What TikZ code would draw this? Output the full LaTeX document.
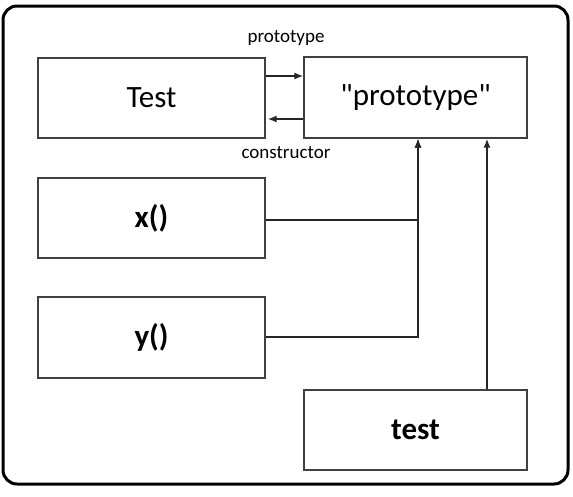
\documentclass[tikz,border=0pt]{standalone}
\usepackage{fontspec}
\setmainfont{Carlito}[Ligatures=TeXOff]
\usetikzlibrary{arrows.meta}
\begin{document}
\begin{tikzpicture}[x=1pt,y=-1pt,
  box/.style={draw=black!75, line width=1.4pt, minimum width=227pt, minimum height=80pt, inner sep=0pt, font=\fontsize{31}{34}\selectfont},
  conn/.style={draw=black!85, line width=1.4pt, -{Latex[length=9pt,width=7pt]}},
  lbl/.style={font=\fontsize{19}{21}\selectfont}]
\useasboundingbox (0,0) rectangle (573,496);
\draw[line width=3pt, rounded corners=14pt] (3,6) rectangle (568,484);
\node[box] (T) at (151.5,98) {Test};
\node[box, minimum width=223pt, minimum height=81pt] (P) at (415.5,97.5) {"prototype"};
\node[box] (X) at (151.5,218) {\bfseries x()};
\node[box, minimum height=81pt] (Y) at (151.5,337.5) {\bfseries y()};
\node[box, minimum width=223pt] (S) at (415.5,430) {\bfseries test};
\node[lbl] (lp) at (286,38) {prototype};
\node[lbl] (lc) at (286,153) {constructor};
\draw[conn] (T.east |- 0,76) -- (P.west |- 0,76);
\draw[conn] (P.west |- 0,119) -- ([xshift=2pt]T.east |- 0,119);
\coordinate (xc) at (418,220);
\coordinate (yc) at (418,337);
\draw[conn] (X.east |- xc) -- (xc) -- (xc |- P.south);
\draw[conn] (Y.east |- yc) -- (yc) -- (yc |- P.south);
\draw[conn] (S.north -| 487,0) -- (P.south -| 487,0);
\end{tikzpicture}
\end{document}
